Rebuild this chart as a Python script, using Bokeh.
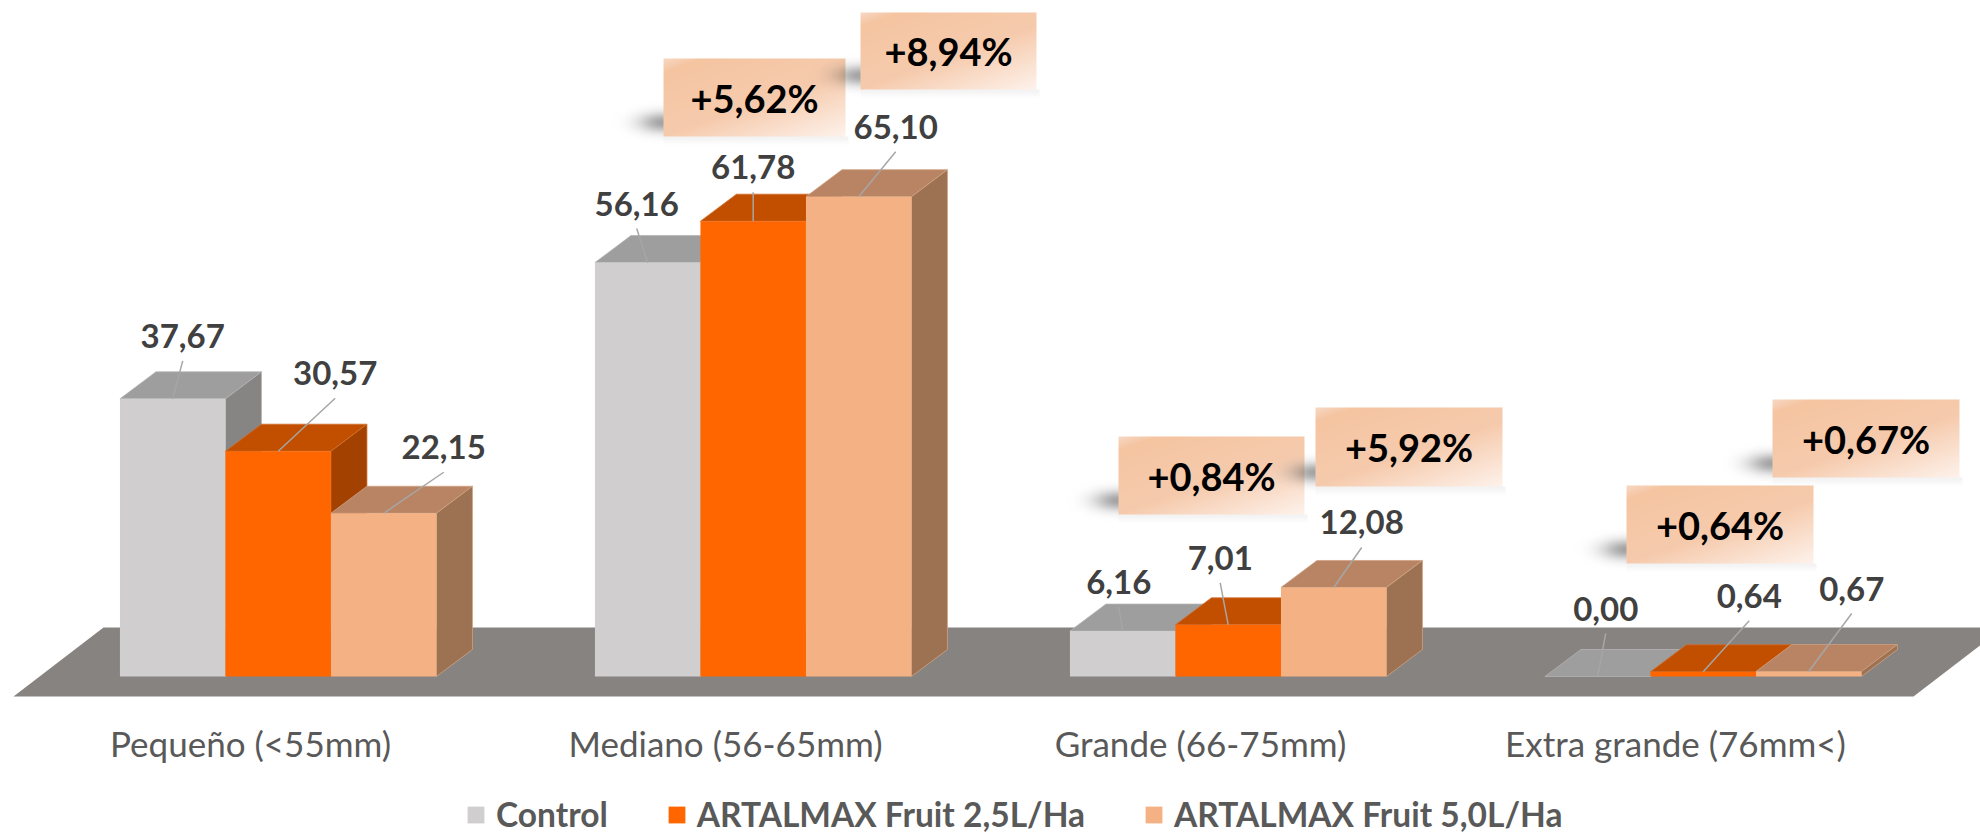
import numpy as np
from bokeh.core.properties import value
from bokeh.embed import file_html
from bokeh.models import FixedTicker, Legend, LegendItem, LinearAxis, Range1d
from bokeh.plotting import figure
from bokeh.resources import INLINE

# ---------- data ----------
categories = ["Pequeño (<55mm)", "Mediano (56-65mm)", "Grande (66-75mm)", "Extra grande (76mm<)"]
series_names = ["Control", "ARTALMAX Fruit 2,5L/Ha", "ARTALMAX Fruit 5,0L/Ha"]
control = [37.67, 56.16, 6.16, 0.00]
fruit_25 = [30.57, 61.78, 7.01, 0.64]
fruit_50 = [22.15, 65.10, 12.08, 0.67]
gains_25 = ["+5,62%", "+0,84%", "+0,64%"]
gains_50 = ["+8,94%", "+5,92%", "+0,67%"]

# ---------- style ----------
FRONT = ["#D0CECE", "#FF6600", "#F4B183"]
TOP = ["#9E9E9E", "#C24E00", "#B98463"]
SIDE = ["#878484", "#A34100", "#9C7252"]
EDGE = ["#B4B2B2", "#CF6E30", "#CFA283"]
FLOOR = "#878380"
FONT = "Lato"

# ---------- layout (page pixels of the 1980x834 picture) ----------
W, H = 1980, 834
PAGE = 0
X0, PX_PER_GROUP = 250.0, 475.0
Y0, PX_PER_UNIT = 676.0, 7.37


def xd(px):
    return (px - X0) / PX_PER_GROUP


def yd(py):
    return (Y0 - py) / PX_PER_UNIT


BAR_W = 105.5 / PX_PER_GROUP
SHIFT = 27.7 / PX_PER_GROUP
DX = 36.0 / PX_PER_GROUP
DY = 27.0 / PX_PER_UNIT

label_offsets = [
    [(10, -63), (-11, -59), (-4, -49), (8, -68)],
    [(57, -78), (0, -54), (-8, -67), (46, -76)],
    [(60, -66), (37, -70), (28, -65), (43, -83)],
]
boxes_25 = [(663, 58, 845, 136), (1118, 436, 1304, 514), (1626, 485, 1813, 563)]
boxes_50 = [(860, 12, 1036, 89), (1315, 407, 1502, 486), (1772, 399, 1959, 477)]

p = figure(
    width=W,
    height=H,
    output_backend="svg",
    toolbar_location=None,
    x_range=Range1d(xd(PAGE), xd(PAGE + W)),
    y_range=Range1d(yd(PAGE + H), yd(PAGE)),
    min_border=0,
    x_axis_type=None,
    y_axis_type=None,
    outline_line_color=None,
    background_fill_color="white",
    border_fill_color="white",
)
p.grid.visible = False

# floor
fl_top, fl_bot = yd(627), yd(696)
p.patch(
    [xd(13), xd(103), xd(2003), xd(1913)],
    [fl_bot, fl_top, fl_top, fl_bot],
    fill_color=FLOOR,
    line_color=None,
)

# bars
xs_c = np.arange(len(categories), dtype=float)
all_series = [control, fruit_25, fruit_50]
front_rs = []
for s, vals in enumerate(all_series):
    left = xs_c + SHIFT + (s - 1.5) * BAR_W
    right = left + BAR_W
    v = np.array(vals)
    p.patches(
        [[l, l + DX, r + DX, r] for l, r in zip(left, right)],
        [[t, t + DY, t + DY, t] for t in v],
        fill_color=TOP[s],
        line_color=EDGE[s],
        line_width=0.8,
    )
    p.patches(
        [[r, r + DX, r + DX, r] for r in right],
        [[0, DY, t + DY, t] for t in v],
        fill_color=SIDE[s],
        line_color=EDGE[s],
        line_width=0.8,
    )
    front_rs.append(
        p.quad(left=left, right=right, bottom=0, top=v, fill_color=FRONT[s], line_color=None)
    )

# leader lines and value labels
for s, vals in enumerate(all_series):
    centers = xs_c + SHIFT + (s - 1) * BAR_W
    lx, ly, tx = [], [], []
    for i, v in enumerate(vals):
        ox, oy = label_offsets[s][i]
        lx.append(centers[i] + ox / PX_PER_GROUP)
        ly.append(v - oy / PX_PER_UNIT)
        tx.append(f"{v:.2f}".replace(".", ","))
    p.segment(
        x0=lx,
        y0=np.array(ly) - 25 / PX_PER_UNIT,
        x1=centers,
        y1=vals,
        line_color="#A6A6A6",
        line_width=1.5,
    )
    p.text(
        x=lx,
        y=ly,
        text=tx,
        text_font=value(FONT),
        text_font_style="bold",
        text_font_size="33px",
        text_color="#404040",
        text_align="center",
        text_baseline="middle",
    )


# gain call-outs
def callout(box):
    x0, y0, x1, y1 = box
    mx, my = 56, 14
    bw, bh = x1 - x0, y1 - y0
    tw, th = bw + mx + 8, bh + my
    yy, xx = np.mgrid[0:th, 0:tw]
    img = np.zeros((th, tw, 4), dtype=np.uint8)
    # soft shadow
    px, py = xx - mx + 0.5, yy + 0.5
    left_d = np.clip(-px, 0, None)
    shade = 0.5 * np.exp(-((left_d / 24.0) ** 2)) * np.exp(-(((py - (bh - 14)) / 10.0) ** 2)) * (px < 0)
    below = np.clip(py - bh, 0, None)
    shade_b = 0.07 * np.exp(-((below / 6.0) ** 2)) * (px >= 0) * (py >= bh) * (px < bw + 3)
    alpha = np.maximum(shade, shade_b)
    img[..., 0:3] = 70
    img[..., 3] = (alpha * 255).astype(np.uint8)
    # diagonal gradient
    inside = (px >= 0) & (px < bw) & (py >= 0) & (py < bh)
    t = 0.45 * px / bw + 0.55 * py / bh
    stops_t = [0.0, 0.10, 0.55, 1.0]
    stops_c = [(248, 217, 197), (245, 197, 162), (246, 203, 173), (254, 243, 236)]
    for c in range(3):
        chan = np.interp(t, stops_t, [k[c] for k in stops_c])
        img[..., c][inside] = chan[inside].astype(np.uint8)
    img[..., 3][inside] = 255
    view = img[::-1].view(dtype=np.uint32).reshape(th, tw)
    return view, x0 - mx, y1 + my, tw, th


gains = gains_25 + gains_50
boxes = boxes_25 + boxes_50
for b in boxes:
    im, ix, iy, tw, th = callout(b)
    p.image_rgba(image=[im], x=xd(ix), y=yd(iy), dw=tw / PX_PER_GROUP, dh=th / PX_PER_UNIT)
p.text(
    x=[xd((b[0] + b[2]) / 2) for b in boxes],
    y=[yd((b[1] + b[3]) / 2) for b in boxes],
    text=gains,
    text_font=value(FONT),
    text_font_style="bold",
    text_font_size="38px",
    text_color="#000000",
    text_align="center",
    text_baseline="middle",
)

# category axis
axis = LinearAxis(
    fixed_location=yd(715),
    ticker=FixedTicker(ticks=list(range(len(categories)))),
    major_label_overrides={i: c for i, c in enumerate(categories)},
    axis_line_color=None,
    major_tick_line_color=None,
    minor_tick_line_color=None,
    major_label_standoff=0,
    major_label_text_font=FONT,
    major_label_text_font_size="35px",
    major_label_text_color="#595959",
)
p.add_layout(axis, "below")

# legend
legend = Legend(
    items=[LegendItem(label=n, renderers=[r]) for n, r in zip(series_names, front_rs)],
    orientation="horizontal",
    location=(465, 0),
    glyph_width=21,
    glyph_height=21,
    label_standoff=10,
    spacing=58,
    padding=0,
    margin=0,
    border_line_color=None,
    background_fill_alpha=0,
    label_text_font=FONT,
    label_text_font_style="bold",
    label_text_font_size="33.5px",
    label_text_color="#595959",
)
p.add_layout(legend, "center")

open("out.html", "w").write(file_html(p, INLINE))
